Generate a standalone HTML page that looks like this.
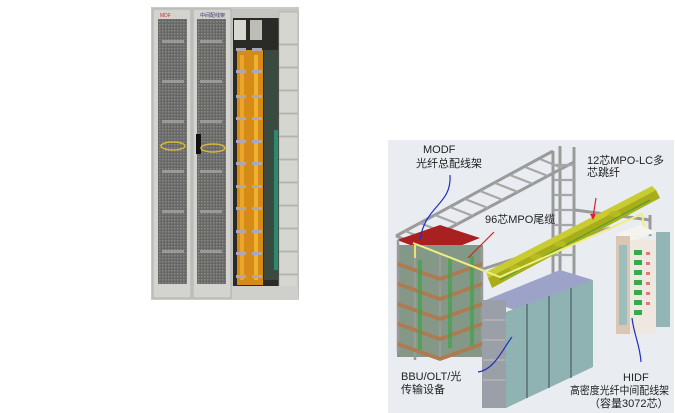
<!DOCTYPE html>
<html><head><meta charset="utf-8"><style>
html,body{margin:0;padding:0;background:#fff;}
svg{display:block;}
text{font-family:"Liberation Sans","Noto Sans CJK SC",sans-serif;font-size:11px;fill:#222;}
</style></head><body>
<svg width="675" height="413" viewBox="0 0 675 413" xmlns="http://www.w3.org/2000/svg">
<defs>
<pattern id="mesh" width="3" height="3" patternUnits="userSpaceOnUse">
<rect width="3" height="3" fill="#686866"/><rect width="1.5" height="1.5" fill="#8a8a88"/>
</pattern>
</defs>
<!-- LEFT PHOTO -->
<rect x="151" y="7" width="148" height="293" fill="#c9c9c5"/>
<rect x="153" y="9" width="38" height="289" fill="#d3d3cf" stroke="#b0b0ac"/>
<rect x="193" y="9" width="38" height="289" fill="#d3d3cf" stroke="#b0b0ac"/>
<rect x="158" y="19" width="29" height="265" fill="url(#mesh)"/>
<rect x="197" y="19" width="29" height="265" fill="url(#mesh)"/>
<g fill="#a4a4a0" opacity="0.8">
<rect x="162" y="40" width="22" height="3"/><rect x="200" y="40" width="22" height="3"/>
<rect x="162" y="80" width="22" height="3"/><rect x="200" y="80" width="22" height="3"/>
<rect x="162" y="120" width="22" height="3"/><rect x="200" y="120" width="22" height="3"/>
<rect x="162" y="170" width="22" height="3"/><rect x="200" y="170" width="22" height="3"/>
<rect x="162" y="210" width="22" height="3"/><rect x="200" y="210" width="22" height="3"/>
<rect x="162" y="250" width="22" height="3"/><rect x="200" y="250" width="22" height="3"/>
</g>
<rect x="196" y="134" width="5" height="20" fill="#111"/>
<ellipse cx="173" cy="146" rx="12" ry="4" fill="none" stroke="#d8b838" stroke-width="1.5"/>
<ellipse cx="213" cy="148" rx="12" ry="4" fill="none" stroke="#d8b838" stroke-width="1.5"/>
<text x="160" y="17" style="font-size:5px;fill:#c33">MDF</text>
<text x="200" y="17" style="font-size:5px;fill:#336">中间配线架</text>
<rect x="232" y="9" width="66" height="289" fill="#c4c4c0"/>
<rect x="233" y="18" width="46" height="268" fill="#2a2a26"/>
<rect x="234" y="20" width="12" height="20" fill="#d8d8d0"/>
<rect x="250" y="20" width="12" height="20" fill="#bdbdb5"/>
<rect x="237" y="50" width="26" height="235" fill="#d68a18"/>
<rect x="240" y="55" width="4" height="225" fill="#eaa52a"/>
<rect x="254" y="55" width="4" height="225" fill="#f0b030"/>
<g fill="#a8a8b8">
<rect x="236" y="48" width="10" height="3"/><rect x="252" y="48" width="10" height="3"/>
<rect x="236" y="70" width="10" height="3"/><rect x="252" y="70" width="10" height="3"/>
<rect x="236" y="95" width="10" height="3"/><rect x="252" y="95" width="10" height="3"/>
<rect x="236" y="117" width="10" height="3"/><rect x="252" y="117" width="10" height="3"/>
<rect x="236" y="140" width="10" height="3"/><rect x="252" y="140" width="10" height="3"/>
<rect x="236" y="162" width="10" height="3"/><rect x="252" y="162" width="10" height="3"/>
<rect x="236" y="185" width="10" height="3"/><rect x="252" y="185" width="10" height="3"/>
<rect x="236" y="207" width="10" height="3"/><rect x="252" y="207" width="10" height="3"/>
<rect x="236" y="230" width="10" height="3"/><rect x="252" y="230" width="10" height="3"/>
<rect x="236" y="252" width="10" height="3"/><rect x="252" y="252" width="10" height="3"/>
<rect x="236" y="275" width="10" height="3"/><rect x="252" y="275" width="10" height="3"/>
</g>
<rect x="264" y="50" width="14" height="230" fill="#3a4a40"/>
<rect x="274" y="130" width="4" height="140" fill="#2a8a70"/>
<g fill="#d6d6d0" stroke="#a8a8a2" stroke-width="0.6">
<rect x="279" y="12" width="19" height="32"/><rect x="279" y="45" width="19" height="22"/>
<rect x="279" y="68" width="19" height="22"/><rect x="279" y="91" width="19" height="22"/>
<rect x="279" y="114" width="19" height="22"/><rect x="279" y="137" width="19" height="22"/>
<rect x="279" y="160" width="19" height="22"/><rect x="279" y="183" width="19" height="22"/>
<rect x="279" y="206" width="19" height="22"/><rect x="279" y="229" width="19" height="22"/>
<rect x="279" y="252" width="19" height="22"/><rect x="279" y="275" width="19" height="22"/>
</g>
<rect x="232" y="286" width="66" height="14" fill="#cfcfcb"/>

<!-- RIGHT DIAGRAM -->
<rect x="388" y="140" width="286" height="273" fill="#e9edf1"/>
<g stroke="#9a9a9a" stroke-width="3" fill="none">
<line x1="396" y1="236" x2="553" y2="151"/>
<line x1="420" y1="244" x2="574" y2="162"/>
<line x1="553" y1="151" x2="553" y2="275"/>
<line x1="574" y1="147" x2="574" y2="275"/>
<line x1="560" y1="146" x2="560" y2="272"/>
<line x1="396" y1="236" x2="480" y2="270"/>
<line x1="480" y1="270" x2="610" y2="228"/>
<line x1="575" y1="210" x2="650" y2="220"/>
<line x1="650" y1="215" x2="650" y2="236"/>
</g>
<g stroke="#a6a6a6" stroke-width="2.2">
<line x1="405" y1="231" x2="428" y2="240"/><line x1="420" y1="223" x2="443" y2="232"/>
<line x1="435" y1="215" x2="458" y2="224"/><line x1="450" y1="207" x2="473" y2="216"/>
<line x1="465" y1="199" x2="488" y2="208"/><line x1="480" y1="191" x2="503" y2="200"/>
<line x1="495" y1="183" x2="518" y2="192"/><line x1="510" y1="175" x2="533" y2="184"/>
<line x1="525" y1="167" x2="548" y2="176"/><line x1="540" y1="159" x2="562" y2="168"/>
<line x1="554" y1="165" x2="574" y2="165"/><line x1="554" y1="180" x2="574" y2="180"/>
<line x1="554" y1="195" x2="574" y2="195"/><line x1="554" y1="210" x2="574" y2="210"/>
<line x1="554" y1="225" x2="574" y2="225"/><line x1="554" y1="240" x2="574" y2="240"/>
<line x1="554" y1="255" x2="574" y2="255"/>
</g>
<!-- MODF rack -->
<polygon points="397,240 440,225 480,238 437,255" fill="#a82020"/>
<rect x="397" y="245" width="86" height="112" fill="#849888"/>
<g stroke="#9a9a9a" stroke-width="2.5" fill="none">
<line x1="398" y1="240" x2="398" y2="352"/><line x1="415" y1="246" x2="415" y2="360"/>
<line x1="440" y1="254" x2="440" y2="360"/><line x1="482" y1="248" x2="482" y2="350"/>
</g>
<g fill="#b07a50">
<polygon points="398,262 440,277 482,262 482,266 440,281 398,266"/>
<polygon points="398,282 440,297 482,282 482,286 440,301 398,286"/>
<polygon points="398,302 440,317 482,302 482,306 440,321 398,306"/>
<polygon points="398,322 440,337 482,322 482,326 440,341 398,326"/>
<polygon points="398,342 440,357 482,342 482,346 440,361 398,346"/>
</g>
<g fill="#4aa050" opacity="0.8">
<rect x="418" y="260" width="4" height="90"/><rect x="448" y="258" width="4" height="90"/><rect x="470" y="256" width="4" height="90"/>
</g>
<!-- cabinets -->
<polygon points="486,300 560,270 593,280 520,312" fill="#9da3c8"/>
<rect x="482" y="300" width="24" height="108" fill="#9a9fa8"/>
<g stroke="#b0b0b0" stroke-width="2"><line x1="483" y1="320" x2="505" y2="320"/><line x1="483" y1="340" x2="505" y2="340"/><line x1="483" y1="360" x2="505" y2="360"/><line x1="483" y1="380" x2="505" y2="380"/></g>
<polygon points="506,312 593,280 593,367 506,408" fill="#8fb3b2"/>
<g stroke="#4a5a60" stroke-width="1.2">
<line x1="527" y1="304" x2="527" y2="398"/><line x1="549" y1="296" x2="549" y2="388"/><line x1="571" y1="288" x2="571" y2="378"/>
</g>
<!-- yellow tray -->
<polygon points="488,278 656,190 660,198 492,288" fill="#a9ad18"/>
<polygon points="488,278 656,190 652,186 486,272" fill="#c8cc30"/>
<line x1="500" y1="280" x2="650" y2="200" stroke="#3aa040" stroke-width="1"/>
<g fill="#b8bb20"><ellipse cx="515" cy="268" rx="6" ry="3"/><ellipse cx="536" cy="257" rx="6" ry="3"/><ellipse cx="560" cy="244" rx="6" ry="3"/><ellipse cx="615" cy="214" rx="6" ry="3"/></g>
<polyline points="413,243 500,277 642,214 645,230" fill="none" stroke="#f0ee80" stroke-width="2"/>
<line x1="415" y1="243" x2="415" y2="258" stroke="#e8e070" stroke-width="2"/>
<!-- HIDF -->
<polygon points="616,234 640,225 656,232 630,242" fill="#f5f3ee"/>
<rect x="616" y="236" width="14" height="98" fill="#d9c6b4"/>
<rect x="630" y="240" width="26" height="94" fill="#eee8e0"/>
<rect x="656" y="232" width="14" height="95" fill="#93b6b5"/>
<rect x="619" y="245" width="8" height="80" fill="#9cbfbd"/>
<g fill="#3aaa48"><rect x="634" y="250" width="8" height="5"/><rect x="634" y="260" width="8" height="5"/><rect x="634" y="270" width="8" height="5"/><rect x="634" y="280" width="8" height="5"/><rect x="634" y="290" width="8" height="5"/><rect x="634" y="300" width="8" height="5"/><rect x="634" y="310" width="8" height="5"/></g>
<g fill="#e07a70"><rect x="646" y="252" width="4" height="3"/><rect x="646" y="262" width="4" height="3"/><rect x="646" y="272" width="4" height="3"/><rect x="646" y="282" width="4" height="3"/><rect x="646" y="292" width="4" height="3"/><rect x="646" y="302" width="4" height="3"/></g>
<!-- arrows -->
<path d="M450,175 C452,205 425,205 420,240" fill="none" stroke="#2030c0" stroke-width="1.2"/>
<path d="M596,198 L593,217" stroke="#e02020" stroke-width="1.2"/><polygon points="590,214 593,220 596,214" fill="#e02020"/>
<path d="M494,232 L468,258" stroke="#e02020" stroke-width="1.2"/>
<path d="M478,372 C495,370 505,345 512,337" fill="none" stroke="#2030c0" stroke-width="1.2"/>
<path d="M632,318 C634,335 640,345 641,362" fill="none" stroke="#2030c0" stroke-width="1.2"/>
<!-- labels -->
<text x="423" y="153">MODF</text>
<text x="416" y="167">光纤总配线架</text>
<text x="587" y="164">12芯MPO-LC多</text>
<text x="587" y="176">芯跳纤</text>
<text x="485" y="223">96芯MPO尾缆</text>
<text x="401" y="380">BBU/OLT/光</text>
<text x="401" y="393">传输设备</text>
<text x="623" y="381">HIDF</text>
<text x="570" y="394" textLength="99" lengthAdjust="spacingAndGlyphs">高密度光纤中间配线架</text>
<text x="589" y="407">（容量3072芯）</text>
</svg>
</body></html>
